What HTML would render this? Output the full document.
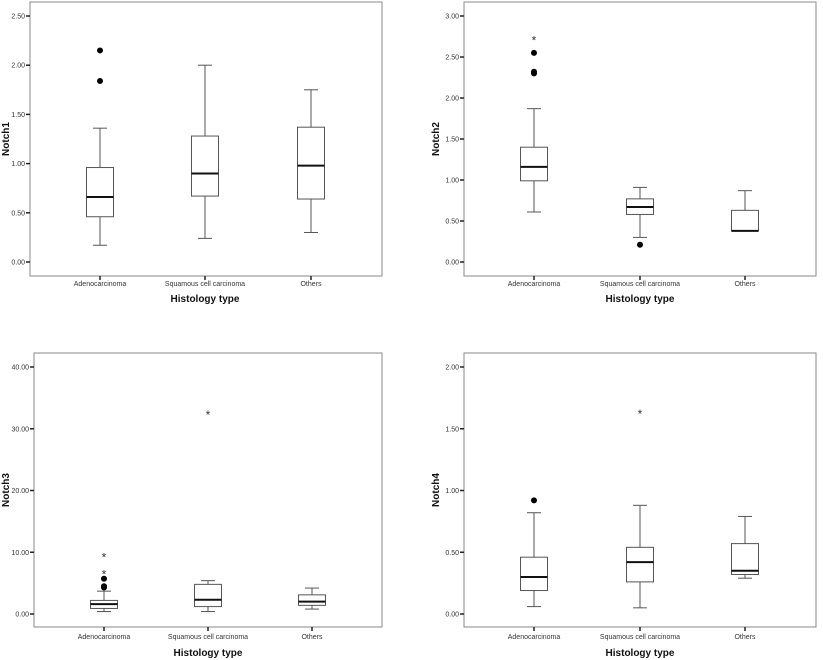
<!DOCTYPE html>
<html><head><meta charset="utf-8"><style>
html,body{margin:0;padding:0;background:#fff;}
svg{display:block;font-family:"Liberation Sans",Arial,sans-serif;}
</style></head><body>
<svg id="chart" width="823" height="660" viewBox="0 0 823 660"></svg>
<script>
const categories = ["Adenocarcinoma","Squamous cell carcinoma","Others"];
const panelTitles = ["Notch1","Notch2","Notch3","Notch4"];
const tickLabels1 = ["0.00","0.50","1.00","1.50","2.00","2.50"];
const tickLabels2 = ["0.00","0.50","1.00","1.50","2.00","2.50","3.00"];
const tickLabels3 = ["0.00","10.00","20.00","30.00","40.00"];
const tickLabels4 = ["0.00","0.50","1.00","1.50","2.00"];
// [min,q1,median,q3,max] per category
const notch1Stats = [[0.17,0.46,0.66,0.96,1.36],[0.24,0.67,0.90,1.28,2.00],[0.30,0.64,0.98,1.37,1.75]];
const notch2Stats = [[0.61,0.99,1.16,1.40,1.87],[0.30,0.58,0.67,0.77,0.91],[0.38,0.38,0.38,0.63,0.87]];
const notch3Stats = [[0.4,0.9,1.6,2.2,3.7],[0.4,1.2,2.3,4.8,5.4],[0.8,1.4,2.0,3.1,4.2]];
const notch4Stats = [[0.06,0.19,0.30,0.46,0.82],[0.05,0.26,0.42,0.54,0.88],[0.29,0.32,0.35,0.57,0.79]];
const notch1Outliers = [[1.84,2.15],[],[]];
const notch1Extremes = [[],[],[]];
const notch2Outliers = [[2.30,2.32,2.55],[0.21],[]];
const notch2Extremes = [[2.72],[],[]];
const notch3Outliers = [[4.3,4.5,5.7],[],[]];
const notch3Extremes = [[6.6,9.4],[32.5],[]];
const notch4Outliers = [[0.92],[],[]];
const notch4Extremes = [[],[1.63],[]];

const NS="http://www.w3.org/2000/svg";
const svg=document.getElementById('chart');
function mk(tag,attrs,parent){const e=document.createElementNS(NS,tag);for(const k in attrs)e.setAttribute(k,attrs[k]);(parent||svg).appendChild(e);return e;}

const panels=[
 {title:panelTitles[0],ticks:tickLabels1,stats:notch1Stats,out:notch1Outliers,ext:notch1Extremes,L:30,R:382,T:2,B:276,y0:262,yTop:16,cx:[100,205,311],xl:286,xt:302,tx:9},
 {title:panelTitles[1],ticks:tickLabels2,stats:notch2Stats,out:notch2Outliers,ext:notch2Extremes,L:464,R:816,T:2,B:276,y0:262,yTop:16,cx:[534,640,745],xl:286,xt:302,tx:439},
 {title:panelTitles[2],ticks:tickLabels3,stats:notch3Stats,out:notch3Outliers,ext:notch3Extremes,L:34,R:382,T:353,B:627,y0:614,yTop:367,cx:[104,208,312],xl:639,xt:656,tx:9},
 {title:panelTitles[3],ticks:tickLabels4,stats:notch4Stats,out:notch4Outliers,ext:notch4Extremes,L:464,R:816,T:353,B:627,y0:614,yTop:367,cx:[534,640,745],xl:639,xt:656,tx:439}
];

panels.forEach((p,pi)=>{
  const g=mk('g',{});
  
  
  const maxV=parseFloat(p.ticks[p.ticks.length-1]);
  const y=v=>p.y0-(v/maxV)*(p.y0-p.yTop);
  const frame=mk('rect',{x:p.L,y:p.T,width:p.R-p.L,height:p.B-p.T,fill:'none',stroke:'#8a8a8a','stroke-width':1},g);
  
  
  p.ticks.forEach(t=>{
    const v=parseFloat(t), yy=y(v);
    const tk=mk('line',{x1:p.L-4,x2:p.L,y1:yy,y2:yy,stroke:'#222','stroke-width':1.5},g);
    
    
    const tx=mk('text',{x:p.L-5,y:yy+2.5,'font-size':7,'text-anchor':'end',fill:'#333'},g);
    tx.textContent=t;
    
    
  });
  const yt=mk('text',{x:0,y:0,'font-size':10,'font-weight':'bold','text-anchor':'middle',fill:'#111',transform:`translate(${p.tx},${(p.T+p.B)/2}) rotate(-90)`},g);
  yt.textContent=p.title;
  
  
  const xt=mk('text',{x:p.cx[1],y:p.xt,'font-size':10,'font-weight':'bold','text-anchor':'middle',fill:'#111'},g);
  xt.textContent='Histology type';
  
  
  categories.forEach((c,i)=>{
    const cx=p.cx[i];
    const xtk=mk('line',{x1:cx,x2:cx,y1:p.B,y2:p.B+4,stroke:'#222','stroke-width':1.5},g);
    
    
    const xl=mk('text',{x:cx,y:p.xl,'font-size':7,'text-anchor':'middle',fill:'#333'},g);
    xl.textContent=c;
    
    
    const s=p.stats[i], hw=13.5, cw=7;
    const bg=mk('g',{},g);
    
    
    mk('line',{x1:cx,x2:cx,y1:y(s[0]),y2:y(s[1]),stroke:'#555','stroke-width':1},bg);
    mk('line',{x1:cx,x2:cx,y1:y(s[3]),y2:y(s[4]),stroke:'#555','stroke-width':1},bg);
    mk('line',{x1:cx-cw,x2:cx+cw,y1:y(s[0]),y2:y(s[0]),stroke:'#555','stroke-width':1},bg);
    mk('line',{x1:cx-cw,x2:cx+cw,y1:y(s[4]),y2:y(s[4]),stroke:'#555','stroke-width':1},bg);
    mk('rect',{x:cx-hw,y:y(s[3]),width:2*hw,height:Math.max(0.5,y(s[1])-y(s[3])),fill:'#fff',stroke:'#555','stroke-width':1},bg);
    mk('line',{x1:cx-hw,x2:cx+hw,y1:y(s[2]),y2:y(s[2]),stroke:'#111','stroke-width':2},bg);
    p.out[i].forEach(v=>{
      const o=mk('circle',{cx:cx,cy:y(v),r:3,fill:'#000'},g);
      
      
    });
    p.ext[i].forEach(v=>{
      const e=mk('text',{x:cx,y:y(v)+5.5,'font-size':12,'text-anchor':'middle',fill:'#333'},g);
      e.textContent='*';
      
      
    });
  });
});
</script>
</body></html>
